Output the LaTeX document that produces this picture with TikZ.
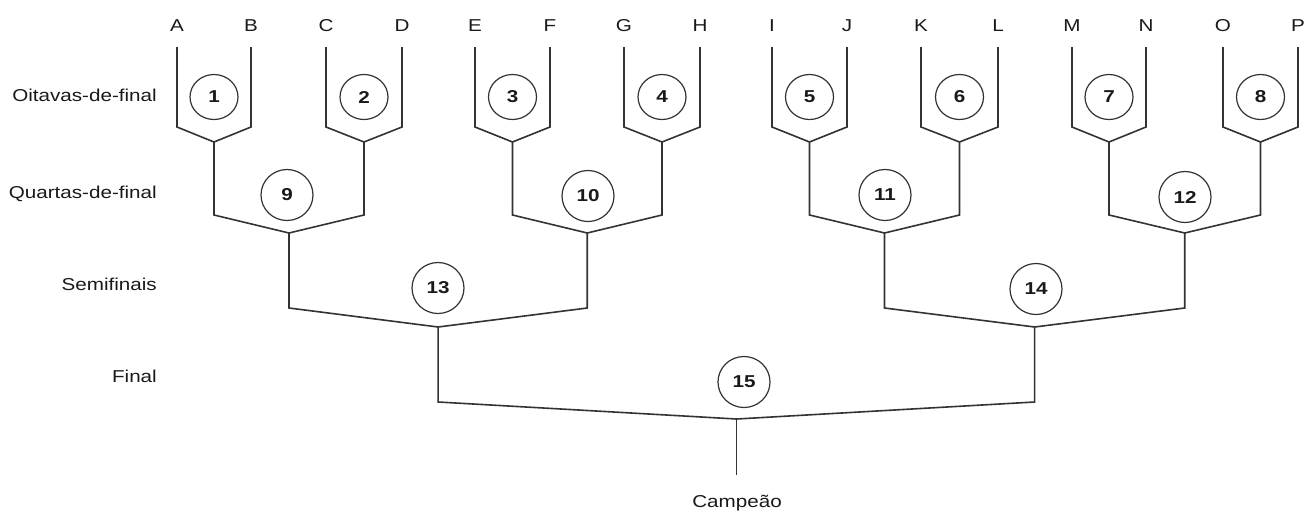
\documentclass[tikz,border=0pt]{standalone}
\usepackage{fontspec}
\setmainfont{Liberation Sans}
\usepackage{graphicx}
\usetikzlibrary{shapes.geometric}
\newcommand{\sx}[1]{\scalebox{1.2}[1]{#1}}
\tikzset{
  txt/.style={inner sep=0pt, font=\fontsize{17.2}{20}\selectfont, text=black!90},
  lbl/.style={txt, anchor=base},
  rlbl/.style={txt, anchor=base east},
  gameone/.style={draw=black!80, line width=1.2pt, ellipse, minimum width=48pt, minimum height=45pt, inner sep=0pt, font=\fontsize{17.2}{20}\selectfont\bfseries, text=black!90},
  gametwo/.style={gameone, minimum width=52pt, minimum height=51pt},
  wire/.style={draw=black!80, line width=1.6pt, line join=miter}
}
\begin{document}
\begin{tikzpicture}[x=1pt,y=-1pt]
\useasboundingbox (0,0) rectangle (1306,517);
% team letters
\foreach \n/\x in {A/177,B/251,C/326,D/402,E/475,F/550,G/624,H/700,I/772,J/847,K/921,L/998,M/1072,N/1146,O/1223,P/1298}
  \node[lbl] (t\n) at (\x,31) {\sx{\n}};
% round labels
\node[rlbl] (r1) at (157,101) {\sx{Oitavas-de-final}};
\node[rlbl] (r2) at (157,198) {\sx{Quartas-de-final}};
\node[rlbl] (r3) at (157,290) {\sx{Semifinais}};
\node[rlbl] (r4) at (157,382) {\sx{Final}};
\node[lbl] (champ) at (737,507) {\sx{Campeão}};
% round of 16
\foreach \i/\l/\r in {1/177/251,2/326/402,3/475/550,4/624/700,5/772/847,6/921/998,7/1072/1146,8/1223/1298}{
  \pgfmathsetmacro\c{(\l+\r)/2}
  \coordinate (lt\i) at (\l,47);
  \coordinate (lb\i) at (\l,127);
  \coordinate (rt\i) at (\r,47);
  \coordinate (rb\i) at (\r,127);
  \coordinate (v\i) at (\c,142);
  \coordinate (s\i) at (\c,215);
  \node[gameone] (m\i) at (\c,97) {\sx{\i}};
  \draw[wire] (lt\i) -- (lb\i) -- (v\i) -- (rb\i) -- (rt\i);
}
% quarter-finals
\foreach \i/\a/\b/\x/\cx/\cy in {9/1/2/289/287/195,10/3/4/587.25/588/196,11/5/6/884.5/885/195,12/7/8/1184.75/1185/197}{
  \coordinate (v\i) at (\x,233);
  \coordinate (s\i) at (\x,308);
  \node[gametwo] (m\i) at (\cx,\cy) {\sx{\i}};
  \draw[wire] (v\a) -- (s\a) -- (v\i) -- (s\b) -- (v\b);
}
% semi-finals
\foreach \i/\a/\b/\x/\cx/\cy in {13/9/10/438.1/438/288,14/11/12/1034.6/1036/289}{
  \coordinate (v\i) at (\x,327);
  \coordinate (s\i) at (\x,402);
  \node[gametwo] (m\i) at (\cx,\cy) {\sx{\i}};
  \draw[wire] (v\a) -- (s\a) -- (v\i) -- (s\b) -- (v\b);
}
% final
\coordinate (v15) at (736.5,419);
\coordinate (s15) at (736.5,475);
\node[gametwo] (m15) at (744,382) {\sx{15}};
\draw[wire] (v13) -- (s13) -- (v15) -- (s14) -- (v14);
\draw[wire] (v15) -- (s15);
\end{tikzpicture}
\end{document}
